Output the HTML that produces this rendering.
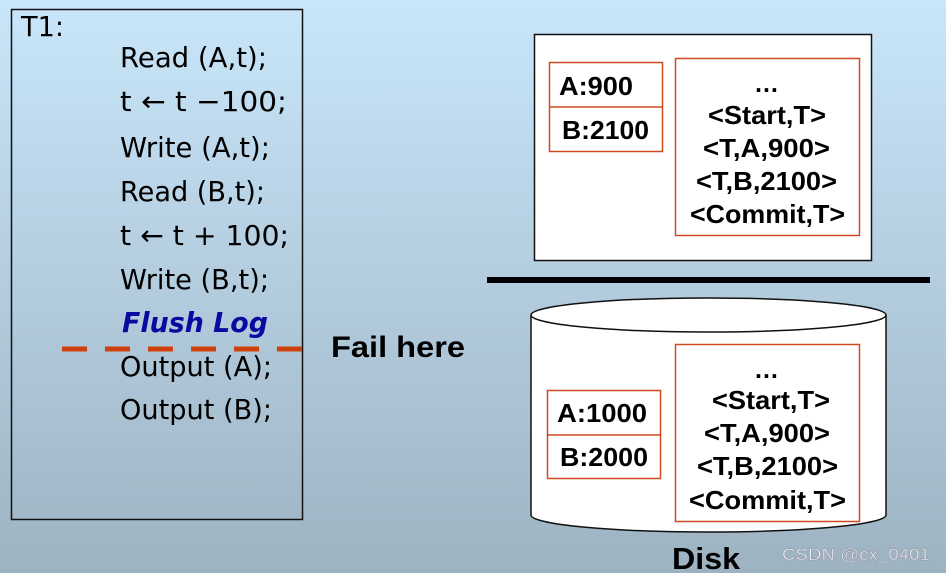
<!DOCTYPE html>
<html><head><meta charset="utf-8"><style>
html,body{margin:0;padding:0}
body{width:946px;height:573px;overflow:hidden;background:linear-gradient(#c9e6fa,#9db3c2)}
svg{display:block}
</style></head><body>
<svg width="946" height="573" xmlns="http://www.w3.org/2000/svg" font-family="DejaVu Sans, Liberation Sans, sans-serif">
<rect x="11.5" y="9.5" width="291" height="510" fill="none" stroke="#111" stroke-width="1.5"/>
<g font-size="28" fill="#000">
<text x="21" y="36" textLength="43" lengthAdjust="spacingAndGlyphs">T1:</text>
<text x="120" y="67" textLength="147" lengthAdjust="spacingAndGlyphs">Read (A,t);</text>
<text x="120" y="111" textLength="167" lengthAdjust="spacingAndGlyphs">t ← t −100;</text>
<text x="120" y="157" textLength="150" lengthAdjust="spacingAndGlyphs">Write (A,t);</text>
<text x="120" y="201" textLength="145" lengthAdjust="spacingAndGlyphs">Read (B,t);</text>
<text x="120" y="245" textLength="169" lengthAdjust="spacingAndGlyphs">t ← t + 100;</text>
<text x="120" y="289" textLength="149" lengthAdjust="spacingAndGlyphs">Write (B,t);</text>
<text x="120" y="376" textLength="152" lengthAdjust="spacingAndGlyphs">Output (A);</text>
<text x="120" y="419" textLength="152" lengthAdjust="spacingAndGlyphs">Output (B);</text>
</g>
<text x="122" y="332" font-size="28" font-weight="bold" font-style="italic" fill="#0a0aa0" textLength="146" lengthAdjust="spacingAndGlyphs">Flush Log</text>
<line x1="62" y1="349" x2="304" y2="349" stroke="#d0400c" stroke-width="5" stroke-dasharray="25,18"/>
<g font-family="Liberation Sans, sans-serif" font-weight="bold">
<text x="331" y="357" font-size="30" textLength="134" lengthAdjust="spacingAndGlyphs">Fail here</text>

<rect x="534.5" y="34.5" width="337" height="226" fill="#fff" stroke="#111" stroke-width="1.5"/>
<rect x="549.5" y="62.5" width="113" height="89" fill="#fff" stroke="#d04a20" stroke-width="1.5"/>
<line x1="549" y1="107" x2="662" y2="107" stroke="#d04a20" stroke-width="1.5"/>
<rect x="675.5" y="58.5" width="184" height="177" fill="#fff" stroke="#d04a20" stroke-width="1.5"/>
<g font-size="26">
<text x="559" y="95" textLength="74" lengthAdjust="spacingAndGlyphs">A:900</text>
<text x="562" y="139" textLength="87" lengthAdjust="spacingAndGlyphs">B:2100</text>
<text x="754" y="92" textLength="25" lengthAdjust="spacingAndGlyphs">…</text>
<text x="708" y="124" textLength="118" lengthAdjust="spacingAndGlyphs">&lt;Start,T&gt;</text>
<text x="703" y="157" textLength="127" lengthAdjust="spacingAndGlyphs">&lt;T,A,900&gt;</text>
<text x="696" y="190" textLength="141" lengthAdjust="spacingAndGlyphs">&lt;T,B,2100&gt;</text>
<text x="690" y="223" textLength="155" lengthAdjust="spacingAndGlyphs">&lt;Commit,T&gt;</text>
</g>
<rect x="487" y="277" width="443" height="6" fill="#000"/>

<path d="M531 315 L531 515 A177.5 17 0 0 0 886 515 L886 315" fill="#fff" stroke="#111" stroke-width="1.5"/>
<ellipse cx="708.5" cy="315" rx="177.5" ry="17" fill="#fff" stroke="#111" stroke-width="1.5"/>
<rect x="547.5" y="390.5" width="113" height="88" fill="#fff" stroke="#d04a20" stroke-width="1.5"/>
<line x1="547" y1="435" x2="660" y2="435" stroke="#d04a20" stroke-width="1.5"/>
<rect x="675.5" y="344.5" width="184" height="177" fill="#fff" stroke="#d04a20" stroke-width="1.5"/>
<g font-size="26">
<text x="557" y="422" textLength="90" lengthAdjust="spacingAndGlyphs">A:1000</text>
<text x="560" y="466" textLength="88" lengthAdjust="spacingAndGlyphs">B:2000</text>
<text x="754" y="378" textLength="25" lengthAdjust="spacingAndGlyphs">…</text>
<text x="712" y="409" textLength="118" lengthAdjust="spacingAndGlyphs">&lt;Start,T&gt;</text>
<text x="704" y="442" textLength="126" lengthAdjust="spacingAndGlyphs">&lt;T,A,900&gt;</text>
<text x="697" y="475" textLength="141" lengthAdjust="spacingAndGlyphs">&lt;T,B,2100&gt;</text>
<text x="689" y="509" textLength="157" lengthAdjust="spacingAndGlyphs">&lt;Commit,T&gt;</text>
</g>
<text x="672" y="569" font-size="31" textLength="68" lengthAdjust="spacingAndGlyphs">Disk</text>
</g>
<text x="782" y="560" font-family="Liberation Sans, sans-serif" font-size="17" fill="#eef" stroke="#888" stroke-width="0.4" textLength="148" lengthAdjust="spacingAndGlyphs">CSDN @cx_0401</text>
</svg>
</body></html>
